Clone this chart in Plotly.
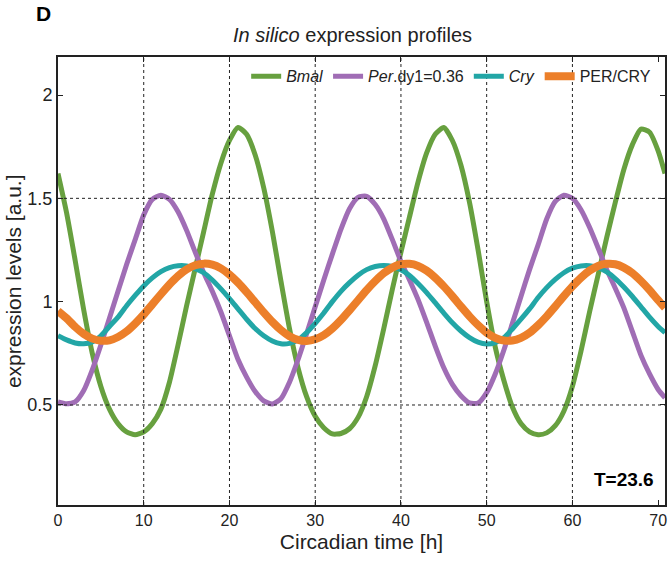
import plotly.graph_objects as go

# Circadian time [h]
time_h = [0, 1, 2, 3, 4, 5, 6, 7, 8, 9, 10, 11, 12, 13, 14, 15, 16, 17, 18, 19,
          20, 21, 22, 23, 24, 25, 26, 27, 28, 29, 30, 31, 32, 33, 34, 35, 36, 37, 38, 39,
          40, 41, 42, 43, 44, 45, 46, 47, 48, 49, 50, 51, 52, 53, 54, 55, 56, 57, 58, 59,
          60, 61, 62, 63, 64, 65, 66, 67, 68, 69, 70, 70.8]

bmal = [1.62, 1.43, 1.20, 0.96, 0.75, 0.59, 0.48, 0.41, 0.37, 0.356,
        0.37, 0.41, 0.48, 0.61, 0.79, 0.98, 1.16, 1.34, 1.52, 1.67,
        1.78, 1.843, 1.81, 1.71, 1.55, 1.34, 1.10, 0.87, 0.68, 0.54,
        0.445, 0.39, 0.36, 0.362, 0.385, 0.44, 0.54, 0.69, 0.87, 1.06,
        1.24, 1.41, 1.58, 1.72, 1.81, 1.843, 1.78, 1.66, 1.48, 1.25,
        1.00, 0.78, 0.62, 0.49, 0.41, 0.37, 0.356, 0.365, 0.40, 0.47,
        0.59, 0.76, 0.95, 1.13, 1.31, 1.48, 1.64, 1.76, 1.835, 1.82,
        1.73, 1.62]

per = [0.515, 0.506, 0.515, 0.57, 0.67, 0.79, 0.92, 1.05, 1.18, 1.30,
       1.42, 1.495, 1.515, 1.495, 1.435, 1.345, 1.24, 1.14, 1.05, 0.95,
       0.835, 0.72, 0.635, 0.565, 0.52, 0.505, 0.53, 0.61, 0.72, 0.845,
       0.975, 1.105, 1.23, 1.35, 1.45, 1.505, 1.51, 1.47, 1.40, 1.30,
       1.195, 1.105, 1.01, 0.90, 0.785, 0.68, 0.60, 0.545, 0.51, 0.51,
       0.56, 0.65, 0.765, 0.895, 1.025, 1.155, 1.275, 1.40, 1.485, 1.515,
       1.50, 1.445, 1.36, 1.26, 1.155, 1.065, 0.97, 0.855, 0.74, 0.65,
       0.575, 0.535]

cry = [0.835, 0.815, 0.80, 0.796, 0.805, 0.835, 0.88, 0.925, 0.98, 1.03,
       1.076, 1.115, 1.145, 1.165, 1.174, 1.173, 1.16, 1.14, 1.105, 1.062,
       1.015, 0.965, 0.915, 0.87, 0.835, 0.81, 0.796, 0.798, 0.815, 0.85,
       0.895, 0.945, 1.0, 1.05, 1.092, 1.128, 1.155, 1.17, 1.175, 1.17,
       1.154, 1.127, 1.088, 1.044, 0.995, 0.945, 0.898, 0.858, 0.826, 0.804,
       0.795, 0.802, 0.825, 0.868, 0.915, 0.965, 1.02, 1.068, 1.108, 1.14,
       1.162, 1.173, 1.174, 1.164, 1.144, 1.112, 1.071, 1.025, 0.975, 0.925,
       0.88, 0.85]

per_cry = [0.955, 0.920, 0.878, 0.844, 0.821, 0.811, 0.813, 0.829, 0.856, 0.894,
           0.938, 0.987, 1.036, 1.083, 1.124, 1.156, 1.176, 1.184, 1.179, 1.161,
           1.131, 1.092, 1.046, 0.997, 0.948, 0.902, 0.863, 0.833, 0.815, 0.810,
           0.818, 0.838, 0.870, 0.911, 0.958, 1.007, 1.056, 1.100, 1.138, 1.165,
           1.181, 1.183, 1.173, 1.150, 1.116, 1.074, 1.027, 0.977, 0.929, 0.886,
           0.850, 0.825, 0.812, 0.812, 0.825, 0.850, 0.886, 0.929, 0.977, 1.027,
           1.074, 1.116, 1.150, 1.173, 1.183, 1.181, 1.165, 1.138, 1.100, 1.056,
           1.007, 0.970]

series_names = ["<i>Bmal</i>", "<i>Per</i>.dy1=0.36", "<i>Cry</i>", "PER/CRY"]
series_values = [bmal, per, cry, per_cry]
series_colors = ["#67A03F", "#A06DB5", "#22A6A6", "#EC7F2A"]
series_widths = [5, 5, 5, 8]

x_ticks = [0, 10, 20, 30, 40, 50, 60, 70]
y_ticks = [0.5, 1, 1.5, 2]
x_grid = [10, 20, 30, 40, 50, 60]
y_grid = [0.5, 1.5]
x_range = [0, 70.8]
y_range = [0.016, 2.184]

FONT = "Liberation Sans Narrow, Liberation Sans, Arial, sans-serif"

fig = go.Figure()
for name, vals, col, w in zip(series_names, series_values, series_colors, series_widths):
    fig.add_trace(go.Scatter(x=time_h, y=vals, mode="lines", name=name,
                             line=dict(color=col, width=w, shape="spline", smoothing=0.6)))

shapes = []
for gx in x_grid:
    shapes.append(dict(type="line", xref="x", yref="paper", x0=gx, x1=gx, y0=0, y1=1,
                       line=dict(color="#222", width=1, dash="dot"), layer="above"))
for gy in y_grid:
    shapes.append(dict(type="line", xref="paper", yref="y", x0=0, x1=1, y0=gy, y1=gy,
                       line=dict(color="#222", width=1, dash="dot"), layer="above"))

fig.update_layout(
    width=671, height=571,
    margin=dict(l=58, r=4, t=57, b=66),
    paper_bgcolor="white", plot_bgcolor="white",
    font=dict(family=FONT, color="#222", size=16),
    shapes=shapes,
    showlegend=True,
    legend=dict(orientation="h", x=0.31, y=0.995, xanchor="left", yanchor="top",
                bgcolor="rgba(0,0,0,0)", font=dict(size=16, family=FONT),
                itemwidth=30, tracegroupgap=0),
    annotations=[
        dict(text="<b>D</b>", x=-0.04, y=1.098, xref="paper", yref="paper", showarrow=False,
             font=dict(size=21, family="Liberation Sans, Arial", color="black"),
             xanchor="left", yanchor="middle"),
        dict(text="<i>In silico</i> expression profiles", x=0.485, y=1.05, xref="paper",
             yref="paper", showarrow=False, xanchor="center", yanchor="middle",
             font=dict(size=20, family=FONT, color="#222")),
        dict(text="<b>T=23.6</b>", x=0.985, y=0.03, xref="paper", yref="paper",
             showarrow=False, xanchor="right", yanchor="bottom",
             font=dict(size=19, family=FONT, color="black")),
        dict(text="expression levels [a.u.]", x=-0.074, y=0.5, xref="paper", yref="paper",
             showarrow=False, textangle=-90, xanchor="center", yanchor="middle",
             font=dict(size=21, family=FONT, color="#222")),
    ],
    xaxis=dict(range=x_range, tickvals=x_ticks, ticktext=[str(v) for v in x_ticks],
               showgrid=False, zeroline=False, ticks="inside", ticklen=5, tickwidth=1,
               tickcolor="#222", showline=True, linecolor="#222", linewidth=2, mirror="ticks",
               tickfont=dict(size=16, family=FONT),
               title=dict(text="Circadian time [h]", font=dict(size=21, family=FONT), standoff=6)),
    yaxis=dict(range=y_range, tickvals=y_ticks, ticktext=["0.5", "1", "1.5", "2"],
               showgrid=False, zeroline=False, ticks="inside", ticklen=5, tickwidth=1,
               tickcolor="#222", showline=True, linecolor="#222", linewidth=2, mirror="ticks",
               tickfont=dict(size=18, family=FONT)),
)

fig.write_html("out.html")
